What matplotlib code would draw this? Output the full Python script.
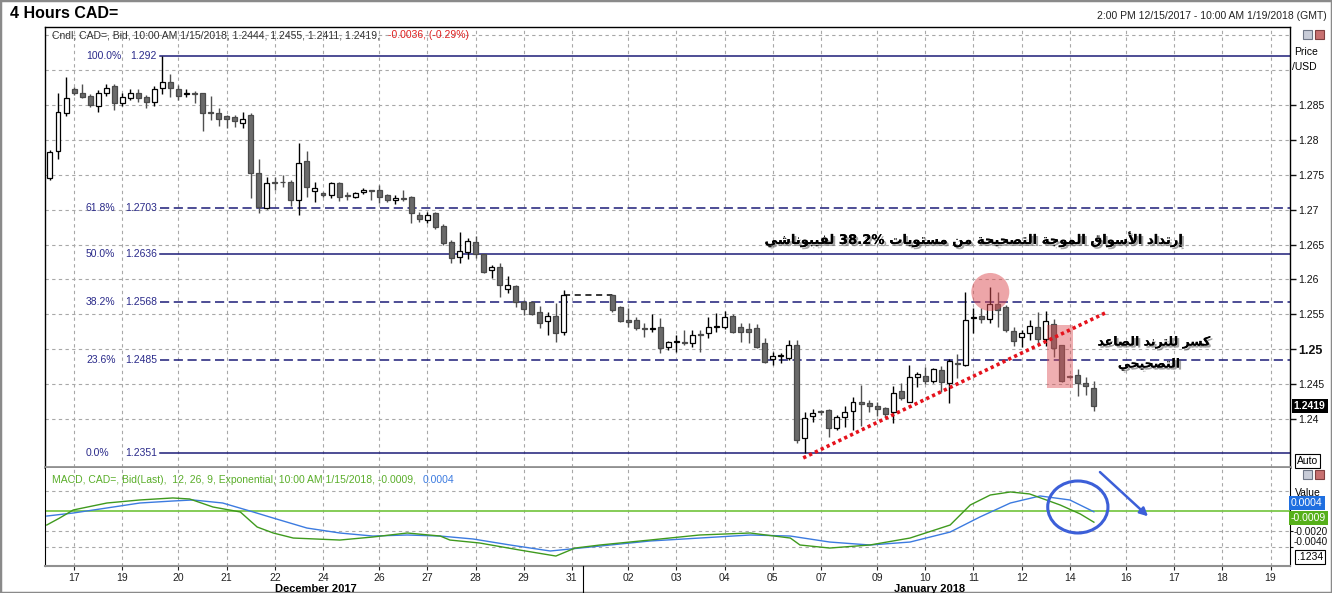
import numpy as np
import matplotlib.pyplot as plt
import matplotlib.patheffects as pe
from matplotlib.patches import Ellipse, Rectangle, FancyArrowPatch
from matplotlib.lines import Line2D
from matplotlib.transforms import blended_transform_factory

plt.rcParams['font.family'] = ['Liberation Sans', 'DejaVu Sans']

# ---- candles, 4h bars (slot 65-69 = holiday, no data) ----
slots = np.r_[0:65, 70:131]
opens = [1.2745, 1.2784, 1.2839, 1.2873, 1.2868, 1.2863, 1.2849, 1.2868, 1.2877, 1.2853,
         1.2860, 1.2868, 1.2861, 1.2854, 1.2874, 1.2883, 1.2873, 1.2866, 1.2868, 1.2867,
         1.2840, 1.2839, 1.2834, 1.2833, 1.2824, 1.2836, 1.2752, 1.2702, 1.2740, 1.2740,
         1.2740, 1.2714, 1.2770, 1.2727, 1.2724, 1.2721, 1.2738, 1.2721, 1.2718, 1.2725,
         1.2728, 1.2728, 1.2721, 1.2714, 1.2717, 1.2718, 1.2693, 1.2685, 1.2695, 1.2676,
         1.2653, 1.2632, 1.2639, 1.2653, 1.2636, 1.2613, 1.2618, 1.2586, 1.2590, 1.2567,
         1.2567, 1.2553, 1.2540, 1.2547, 1.2524,
         1.2577, 1.2560, 1.2542, 1.2542, 1.2530, 1.2529, 1.2532, 1.2503, 1.2510, 1.2510,
         1.2509, 1.2522, 1.2523, 1.2532, 1.2532, 1.2547, 1.2532, 1.2529, 1.2530, 1.2509,
         1.2486, 1.2490, 1.2487, 1.2506, 1.2372, 1.2404, 1.2411, 1.2413, 1.2387, 1.2403,
         1.2411, 1.2424, 1.2423, 1.2418, 1.2416, 1.2410, 1.2440, 1.2424, 1.2460, 1.2461,
         1.2454, 1.2470, 1.2451, 1.2480, 1.2477, 1.2545, 1.2547, 1.2543, 1.2565, 1.2560,
         1.2526, 1.2517, 1.2523, 1.2532, 1.2514, 1.2536, 1.2506, 1.2461, 1.2463, 1.2451,
         1.2444]
highs = [1.2785, 1.2867, 1.2890, 1.2876, 1.2880, 1.2866, 1.2871, 1.2880, 1.2880, 1.2867,
         1.2873, 1.2873, 1.2864, 1.2877, 1.2920, 1.2894, 1.2879, 1.2873, 1.2870, 1.2868,
         1.2863, 1.2846, 1.2836, 1.2836, 1.2840, 1.2839, 1.2773, 1.2747, 1.2747, 1.2750,
         1.2742, 1.2795, 1.2784, 1.2740, 1.2725, 1.2740, 1.2740, 1.2725, 1.2725, 1.2731,
         1.2728, 1.2735, 1.2722, 1.2721, 1.2728, 1.2720, 1.2696, 1.2696, 1.2696, 1.2679,
         1.2656, 1.2668, 1.2659, 1.2662, 1.2637, 1.2620, 1.2623, 1.2605, 1.2592, 1.2570,
         1.2569, 1.2562, 1.2553, 1.2566, 1.2585,
         1.2579, 1.2562, 1.2559, 1.2546, 1.2537, 1.2550, 1.2544, 1.2511, 1.2520, 1.2527,
         1.2527, 1.2527, 1.2546, 1.2552, 1.2555, 1.2550, 1.2537, 1.2537, 1.2536, 1.2516,
         1.2496, 1.2494, 1.2513, 1.2513, 1.2410, 1.2414, 1.2413, 1.2414, 1.2405, 1.2418,
         1.2431, 1.2448, 1.2427, 1.2424, 1.2417, 1.2447, 1.2451, 1.2477, 1.2467, 1.2474,
         1.2473, 1.2476, 1.2486, 1.2493, 1.2582, 1.2559, 1.2559, 1.2589, 1.2582, 1.2563,
         1.2532, 1.2527, 1.2542, 1.2553, 1.2555, 1.2543, 1.2506, 1.2463, 1.2471, 1.2460,
         1.2455]
lows = [1.2742, 1.2773, 1.2834, 1.2864, 1.2860, 1.2847, 1.2840, 1.2863, 1.2843, 1.2849,
        1.2857, 1.2854, 1.2846, 1.2849, 1.2866, 1.2861, 1.2857, 1.2861, 1.2853, 1.2813,
        1.2828, 1.2820, 1.2817, 1.2818, 1.2817, 1.2717, 1.2695, 1.2701, 1.2728, 1.2732,
        1.2706, 1.2692, 1.2718, 1.2711, 1.2718, 1.2717, 1.2712, 1.2714, 1.2717, 1.2722,
        1.2714, 1.2709, 1.2711, 1.2708, 1.2712, 1.2681, 1.2682, 1.2681, 1.2672, 1.2649,
        1.2623, 1.2623, 1.2629, 1.2631, 1.2609, 1.2602, 1.2575, 1.2580, 1.2560, 1.2549,
        1.2549, 1.2530, 1.2521, 1.2510, 1.2520,
        1.2553, 1.2539, 1.2532, 1.2527, 1.2517, 1.2524, 1.2494, 1.2499, 1.2496, 1.2506,
        1.2503, 1.2496, 1.2516, 1.2524, 1.2529, 1.2523, 1.2510, 1.2509, 1.2501, 1.2480,
        1.2477, 1.2480, 1.2484, 1.2365, 1.2351, 1.2395, 1.2405, 1.2374, 1.2384, 1.2388,
        1.2384, 1.2390, 1.2410, 1.2404, 1.2403, 1.2394, 1.2427, 1.2424, 1.2446, 1.2450,
        1.2451, 1.2438, 1.2423, 1.2458, 1.2476, 1.2523, 1.2537, 1.2537, 1.2532, 1.2524,
        1.2504, 1.2503, 1.2513, 1.2509, 1.2504, 1.2489, 1.2453, 1.2458, 1.2433, 1.2434,
        1.2411]
closes = [1.2783, 1.2840, 1.2860, 1.2867, 1.2861, 1.2850, 1.2868, 1.2874, 1.2853, 1.2861,
          1.2868, 1.2860, 1.2854, 1.2873, 1.2883, 1.2874, 1.2863, 1.2868, 1.2866, 1.2839,
          1.2838, 1.2830, 1.2830, 1.2827, 1.2830, 1.2752, 1.2704, 1.2738, 1.2738, 1.2739,
          1.2714, 1.2767, 1.2732, 1.2731, 1.2721, 1.2738, 1.2718, 1.2720, 1.2724, 1.2728,
          1.2727, 1.2718, 1.2714, 1.2717, 1.2715, 1.2695, 1.2686, 1.2692, 1.2675, 1.2652,
          1.2631, 1.2641, 1.2655, 1.2636, 1.2610, 1.2618, 1.2592, 1.2592, 1.2567, 1.2558,
          1.2551, 1.2537, 1.2547, 1.2523, 1.2577,
          1.2556, 1.2540, 1.2539, 1.2530, 1.2529, 1.2530, 1.2501, 1.2510, 1.2511, 1.2509,
          1.2520, 1.2521, 1.2532, 1.2533, 1.2546, 1.2524, 1.2524, 1.2524, 1.2503, 1.2481,
          1.2490, 1.2491, 1.2506, 1.2370, 1.2401, 1.2408, 1.2410, 1.2387, 1.2403, 1.2410,
          1.2424, 1.2421, 1.2418, 1.2414, 1.2407, 1.2437, 1.2430, 1.2460, 1.2464, 1.2454,
          1.2471, 1.2453, 1.2483, 1.2479, 1.2542, 1.2546, 1.2543, 1.2565, 1.2556, 1.2527,
          1.2511, 1.2523, 1.2533, 1.2514, 1.2540, 1.2501, 1.2454, 1.2460, 1.2451, 1.2447,
          1.2419]

# ---- MACD(12,26,9) ----
macd_x = [-0.4, 1.2, 2.9, 7.1, 11.2, 15.3, 17.4, 20.3, 23.7, 25.8, 27.8, 30.3, 36.1, 40.2,
          44.5, 48.6, 49.8, 53.5, 58.5, 63.0, 65.4, 68.5, 74.7, 80.9, 87.2, 92.2, 93.4,
          97.1, 102.1, 107.1, 112.1, 114.6, 117.1, 119.6, 122.0, 125.8, 128.3, 130.0]
macd = [-0.00125, -0.00038, 0.00063, 0.0015, 0.00188, 0.00213, 0.0020, 0.0010, 0.00038,
        -0.0015, -0.00225, -0.00288, -0.00313, -0.00275, -0.00225, -0.00263, -0.00313,
        -0.0035, -0.00438, -0.00513, -0.00413, -0.00375, -0.00313, -0.0025, -0.00225,
        -0.00288, -0.00375, -0.00413, -0.00375, -0.00288, -0.00125, 0.00125, 0.0025,
        0.00288, 0.00263, 0.00125, 0.00013, -0.0009]
signal_x = [-0.4, 2.9, 7.1, 11.2, 15.3, 17.8, 21.5, 25.3, 27.8, 32.0, 36.1, 40.2, 44.5, 48.6,
            52.7, 57.3, 62.3, 64.8, 68.5, 74.7, 80.9, 87.2, 92.2, 97.1, 102.1, 107.1, 112.1,
            115.8, 119.6, 123.3, 127.0, 130.0]
signal = [-0.00013, 0.00025, 0.00088, 0.0015, 0.00175, 0.00188, 0.0015, 0.00038, -0.00038,
          -0.00163, -0.00225, -0.00263, -0.0025, -0.00263, -0.003, -0.00375, -0.0045,
          -0.00425, -0.00388, -0.00325, -0.00288, -0.0025, -0.00263, -0.00338, -0.00375,
          -0.00338, -0.00213, -0.00025, 0.0015, 0.00238, 0.00188, 0.0004]

# ---- axis labels ----
tick_slots = [3, 9, 16, 22, 28, 34, 41, 47, 53, 59, 65, 72, 78, 84, 90, 96, 103, 109, 115,
              121, 127, 134, 140, 146, 152]
tick_labels = ['17', '19', '20', '21', '22', '24', '26', '27', '28', '29', '31', '02', '03',
               '04', '05', '07', '09', '10', '11', '12', '14', '16', '17', '18', '19']
price_ticks = [1.24, 1.245, 1.25, 1.255, 1.26, 1.265, 1.27, 1.275, 1.28, 1.285]
price_tick_labels = ['1.24', '1.245', '1.25', '1.255', '1.26', '1.265', '1.27', '1.275',
                     '1.28', '1.285']

# ---- fibonacci retracement ----
fib_pcts = ['100.0%', '61.8%', '50.0%', '38.2%', '23.6%', '0.0%']
fib_vals = [1.292, 1.2703, 1.2636, 1.2568, 1.2485, 1.2351]
fib_dashed = [False, True, False, True, True, False]

# ---- annotations ----
trend_x = [93.8, 131.6]
trend_y = [1.2344, 1.2553]
title_ar = 'إرتداد الأسواق الموجة التصحيحة من مستويات 38.2% لفيبوناشي'
note_ar = ['كسر للترند الصاعد', 'التصحيحي']

# ---------- tiny arabic shaper (matplotlib has no complex text layout) ----------
FORMS = {'ا': (0xFE8D, 0), 'أ': (0xFE83, 0), 'إ': (0xFE87, 0), 'آ': (0xFE81, 0),
         'ب': (0xFE8F, 1), 'ة': (0xFE93, 0), 'ت': (0xFE95, 1), 'ث': (0xFE99, 1),
         'ج': (0xFE9D, 1), 'ح': (0xFEA1, 1), 'خ': (0xFEA5, 1), 'د': (0xFEA9, 0),
         'ذ': (0xFEAB, 0), 'ر': (0xFEAD, 0), 'ز': (0xFEAF, 0), 'س': (0xFEB1, 1),
         'ش': (0xFEB5, 1), 'ص': (0xFEB9, 1), 'ض': (0xFEBD, 1), 'ط': (0xFEC1, 1),
         'ظ': (0xFEC5, 1), 'ع': (0xFEC9, 1), 'غ': (0xFECD, 1), 'ف': (0xFED1, 1),
         'ق': (0xFED5, 1), 'ك': (0xFED9, 1), 'ل': (0xFEDD, 1), 'م': (0xFEE1, 1),
         'ن': (0xFEE5, 1), 'ه': (0xFEE9, 1), 'و': (0xFEED, 0), 'ى': (0xFEEF, 0),
         'ي': (0xFEF1, 1)}
LAM_ALEF = {'ا': (0xFEFB, 0xFEFC), 'أ': (0xFEF7, 0xFEF8), 'إ': (0xFEF9, 0xFEFA),
            'آ': (0xFEF5, 0xFEF6)}


def shape_word(word):
    if not any(ch in FORMS for ch in word):
        return word
    toks = []
    i = 0
    while i < len(word):
        if word[i] == 'ل' and i + 1 < len(word) and word[i + 1] in LAM_ALEF:
            toks.append(('lig', word[i + 1]))
            i += 2
        else:
            toks.append(('ch', word[i]))
            i += 1
    out = []
    for k, (kind, ch) in enumerate(toks):
        prev_joins = k > 0 and toks[k - 1][0] == 'ch' and FORMS.get(toks[k - 1][1], (0, 0))[1] == 1
        if kind == 'lig':
            a, b = LAM_ALEF[ch]
            out.append(chr(b if prev_joins else a))
            continue
        if ch not in FORMS:
            out.append(ch)
            continue
        base, dual = FORMS[ch]
        nxt = k + 1 < len(toks) and (toks[k + 1][0] == 'lig' or toks[k + 1][1] in FORMS)
        if dual and prev_joins and nxt:
            out.append(chr(base + 3))
        elif prev_joins:
            out.append(chr(base + 1))
        elif dual and nxt:
            out.append(chr(base + 2))
        else:
            out.append(chr(base))
    return ''.join(reversed(out))


def ar(text):
    # visual right-to-left order
    return ' '.join(shape_word(w) for w in reversed(text.split(' ')))


W, H = 1332, 593
fx = lambda x: x / W
fy = lambda y: 1 - y / H

fig = plt.figure(figsize=(W / 100, H / 100), dpi=100)
ax = fig.add_axes([fx(45), fy(467), 1245 / W, 440 / H])
ax2 = fig.add_axes([fx(45), fy(566), 1245 / W, 98 / H], sharex=ax)

grid_kw = dict(color='#a8a8a8', linestyle=(0, (3, 3)), linewidth=0.8)
trans_l = blended_transform_factory(ax.transAxes, ax.transData)

# ---------- price panel ----------
ax.set_xlim(-0.62, 154.42)
ax.set_ylim(1.2331, 1.2962)
for v in [1.24, 1.245, 1.25, 1.255, 1.26, 1.265, 1.27, 1.275, 1.28, 1.285, 1.29, 1.295]:
    ax.axhline(v, zorder=0, **grid_kw)
for s in tick_slots:
    ax.axvline(s, zorder=0, **grid_kw)
    ax2.axvline(s, zorder=0, **grid_kw)

for pct, val, dashed in zip(fib_pcts, fib_vals, fib_dashed):
    ax.axhline(val, xmin=(160 - 45) / 1245, xmax=1, color='#1c1c78', lw=1.1,
               linestyle=(0, (6, 3)) if dashed else '-', zorder=1)
    ax.text((86 - 45) / 1245, val, pct, transform=trans_l, fontsize=7.5,
            color='#2a2a8a', va='center', ha='left')
    ax.text((157 - 45) / 1245, val, str(val), transform=trans_l, fontsize=7.5,
            color='#2a2a8a', va='center', ha='right')

o = np.array(opens)
h = np.array(highs)
l = np.array(lows)
c = np.array(closes)
up = c >= o
body_lo = np.minimum(o, c)
body_h = np.maximum(np.abs(c - o), 0.00007)
ax.vlines(slots[up], l[up], h[up], color='black', lw=1, zorder=3)
ax.vlines(slots[~up], l[~up], h[~up], color='#505050', lw=1, zorder=3)
ax.bar(slots[up], body_h[up], bottom=body_lo[up], width=0.62, color='white',
       edgecolor='black', linewidth=0.9, zorder=4)
ax.bar(slots[~up], body_h[~up], bottom=body_lo[~up], width=0.62, color='#6a6a6a',
       edgecolor='#4a4a4a', linewidth=0.9, zorder=4)
# holiday gap
ax.plot([slots[64], slots[65]], [closes[64], closes[64]], color='black', lw=1.1,
        linestyle=(0, (4, 3)), zorder=3)

# annotations
ax.add_patch(Ellipse((117.1, 1.2582), 4.73, 0.00545, color='#dd4d52', alpha=0.5, lw=0, zorder=5))
ax.add_patch(Rectangle((124.1, 1.2444), 3.3, 0.0090, color='#dd4d52', alpha=0.45, lw=0, zorder=5))
ax.plot(trend_x, trend_y, color='#e5121c', lw=2.6, linestyle=(0, (0.9, 0.9)), zorder=6)

shadow = [pe.withSimplePatchShadow(offset=(1.5, -1.5), shadow_rgbFace=(0.35, 0.35, 0.35), alpha=0.55),
          pe.Normal()]
fig.text(fx(975), fy(239), ar(title_ar), fontsize=9.5, fontweight='bold', family=['DejaVu Sans'],
         ha='center', va='center', path_effects=shadow, zorder=10)
fig.text(fx(1154), fy(342), ar(note_ar[0]), fontsize=9, fontweight='bold', family=['DejaVu Sans'],
         ha='center', va='center', path_effects=shadow, zorder=10)
fig.text(fx(1149), fy(364), ar(note_ar[1]), fontsize=9, fontweight='bold', family=['DejaVu Sans'],
         ha='center', va='center', path_effects=shadow, zorder=10)

ax.yaxis.tick_right()
ax.set_yticks(price_ticks)
ax.set_yticklabels(price_tick_labels)
ax.tick_params(axis='y', direction='out', length=4, width=1, labelsize=7.5, pad=2, colors='#111')
for lab in ax.get_yticklabels():
    if lab.get_text() == '1.25':
        lab.set_fontsize(9)
        lab.set_fontweight('bold')
ax.tick_params(axis='x', length=0, labelbottom=False)
for side in ['left', 'right', 'top']:
    ax.spines[side].set_color('black')
    ax.spines[side].set_linewidth(1)
ax.spines['bottom'].set_color('#909090')
ax.spines['bottom'].set_linewidth(2)

ax.text(1.003, closes[-1], f'{closes[-1]:.4f}', transform=trans_l,
        fontsize=7.5, fontweight='bold', color='white', va='center', ha='left',
        bbox=dict(boxstyle='square,pad=0.2', fc='black', ec='none'))

ax.text(0.0056, 1.2950, 'Cndl, CAD=, Bid, 10:00 AM 1/15/2018, 1.2444, 1.2455, 1.2411, 1.2419,',
        fontsize=7.5, color='#333333', va='center', ha='left', transform=trans_l)
ax.text((388 - 45) / 1245, 1.2950, '-0.0036, (-0.29%)', fontsize=7.5, color='#e02020',
        va='center', ha='left', transform=trans_l)

# ---------- MACD panel ----------
ax2.set_ylim(-0.006375, 0.005875)
for v in [0.003, -0.002, -0.004]:
    ax2.axhline(v, zorder=0, **grid_kw)
ax2.axhline(0.0005, color='#7cc84a', lw=1.3, zorder=1)
ax2.plot(signal_x, signal, color='#3c7be0', lw=1, zorder=3)
ax2.plot(macd_x, macd, color='#3f9a1e', lw=1, zorder=3)

ax2.text(0.0056, 0.88, 'MACD, CAD=, Bid(Last),  12, 26, 9, Exponential, 10:00 AM 1/15/2018, -0.0009,',
         transform=ax2.transAxes, fontsize=7.5, color='#5aae2a', va='center', ha='left')
ax2.text((423 - 45) / 1245, 0.88, '0.0004', transform=ax2.transAxes, fontsize=7.5,
         color='#3c7be0', va='center', ha='left')

ax2.add_patch(Ellipse((128.0, 0.001), 7.5, 0.0065, fill=False, ec='#3c5fd8', lw=2.2,
                      zorder=6, clip_on=False))
ax2.add_patch(FancyArrowPatch((130.5, 0.0056), (137.0, -0.0004), arrowstyle='-|>',
                              mutation_scale=12, color='#3c5fd8', lw=1.8, zorder=6,
                              clip_on=False))

ax2.yaxis.tick_right()
ax2.set_yticks([-0.002, -0.004])
ax2.set_yticklabels(['-0.0020', '-0.0040'])
ax2.tick_params(axis='y', direction='out', length=2, labelsize=7.2, pad=0.5, colors='#111')
ax2.get_yticklabels()[1].set_verticalalignment('bottom')
ax2.set_xticks(tick_slots)
ax2.set_xticklabels(tick_labels)
ax2.tick_params(axis='x', direction='out', length=3, labelsize=7.5, pad=2, colors='#222')
ax2.spines['top'].set_visible(False)
for side in ['left', 'right']:
    ax2.spines[side].set_color('black')
ax2.spines['bottom'].set_color('#909090')
ax2.spines['bottom'].set_linewidth(1.5)

fig.text(fx(1295), fy(493), 'Value', fontsize=7.5, va='center', ha='left')
fig.text(fx(1291), fy(503), '0.0004', fontsize=7.5, color='white', va='center', ha='left',
         bbox=dict(boxstyle='square,pad=0.18', fc='#1f6fe0', ec='none'))
fig.text(fx(1291), fy(518), '-0.0009', fontsize=7.5, color='white', va='center', ha='left',
         bbox=dict(boxstyle='square,pad=0.18', fc='#56b01a', ec='none'))
fig.text(fx(1297), fy(557), '.1234', fontsize=7.5, va='center', ha='left',
         bbox=dict(boxstyle='square,pad=0.15', fc='white', ec='black', lw=0.8))
fig.text(fx(1297), fy(461), 'Auto', fontsize=7.5, va='center', ha='left',
         bbox=dict(boxstyle='square,pad=0.15', fc='white', ec='black', lw=0.8))

# ---------- header / frame ----------
fig.text(fx(10), fy(14), '4 Hours CAD=', fontsize=11.5, fontweight='bold', va='center', ha='left')
fig.text(fx(1327), fy(16), '2:00 PM 12/15/2017 - 10:00 AM 1/19/2018 (GMT)', fontsize=7.5,
         va='center', ha='right', color='#222')
fig.text(fx(1294), fy(52), 'Price', fontsize=7.5, va='center', ha='left')
fig.text(fx(1292), fy(67), '/USD', fontsize=7.5, va='center', ha='left')
fig.text(fx(316), fy(584), 'December 2017', fontsize=8, fontweight='bold', va='top', ha='center')
fig.text(fx(930), fy(584), 'January 2018', fontsize=8, fontweight='bold', va='top', ha='center')
fig.add_artist(Line2D([fx(583), fx(583)], [fy(566), fy(593)], color='black', lw=0.8))

for y0 in (30, 470):
    fig.add_artist(Rectangle((fx(1303), fy(y0 + 9)), 9 / W, 9 / H, fc='#c8ccd8', ec='#707888',
                             lw=0.8, transform=fig.transFigure))
    fig.add_artist(Rectangle((fx(1315), fy(y0 + 9)), 9 / W, 9 / H, fc='#c87070', ec='#804040',
                             lw=0.8, transform=fig.transFigure))
fig.add_artist(Rectangle((0, 0), 1, 1, fill=False, ec='#8a8a8a', lw=2.5,
                         transform=fig.transFigure))

fig.savefig('out.png', dpi=100)
